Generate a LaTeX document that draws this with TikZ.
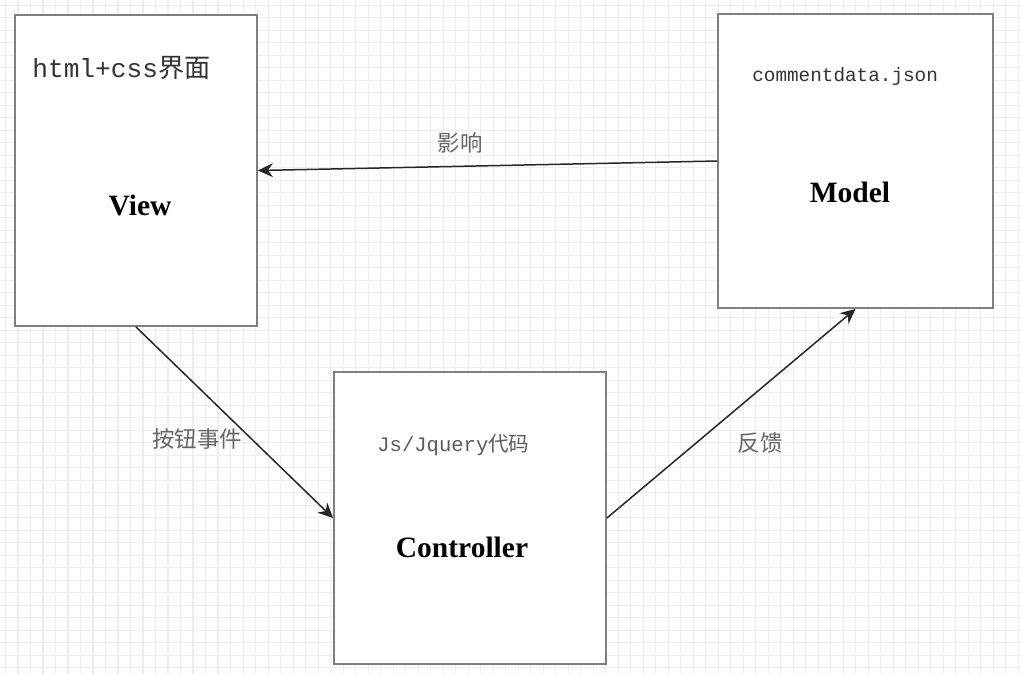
\documentclass[tikz,border=0pt]{standalone}
\usepackage{fontspec}
\setmainfont{Liberation Serif}
\setmonofont{Liberation Mono}
\newfontfamily\cjk{Noto Sans CJK SC}
\usetikzlibrary{positioning,arrows.meta}
\definecolor{rand}{HTML}{7F7F7F}
\definecolor{raster}{HTML}{EDEDED}
\definecolor{tekst}{HTML}{333333}
\definecolor{grijs}{HTML}{666666}

\begin{document}
\begin{tikzpicture}[
  x=0.02cm, y=-0.02cm,
  blok/.style={draw=rand, line width=1.1pt, fill=white, inner sep=0pt},
  naam/.style={font=\fontsize{16.8}{18}\selectfont\bfseries, text=black},
  code/.style={font=\ttfamily\fontsize{#1}{#1}\selectfont, text=tekst, inner sep=0pt},
  code/.default=11,
  pijl/.style={-{Stealth[length=3mm, width=2.8mm, inset=1mm]}, line width=0.85pt, black!85},
  bijschrift/.style={font=\cjk\fontsize{12.8}{14}\selectfont, text=grijs},
]
% ---- achtergrond met raster
\fill[white] (0,0) rectangle (1021,674);
\useasboundingbox (0,0) rectangle (1021,674);
\foreach \gx in {0,...,81}
  \draw[raster, line width=0.8pt] (5.7+12.5*\gx,0) -- ++(0,674);
\foreach \gy in {0,...,53}
  \draw[raster, line width=0.8pt] (0,5.2+12.5*\gy) -- ++(1021,0);

% ---- de drie blokken
\node[blok, minimum width=4.84cm, minimum height=6.22cm] (view) at (136,170.5) {};
\node[blok, minimum width=5.5cm, minimum height=5.88cm] (model) at (855.5,161) {};
\node[blok, minimum width=5.44cm, minimum height=5.84cm] (controller) at (470,518) {};

% ---- teksten in de blokken
\node[code=14.9, anchor=west] (viewcode) at (32,68) {html+css{\cjk 界面}};
\node[naam] (viewnaam) at (140,205) {View};
\node[code=11, anchor=west] (modelcode) at (752,76) {commentdata.json};
\node[naam] (modelnaam) at (850,192) {Model};
\node[code=11.7, anchor=west, text=grijs!90!black] (ctrlcode) at (377,445) {Js/Jquery{\cjk 代码}};
\node[naam] (ctrlnaam) at (462,547) {Controller};

% ---- pijlen
\draw[pijl] (model.west) -- (view.east);
\draw[pijl] (view.south) -- (controller.west);
\draw[pijl] (controller.east) -- (model.south);

% ---- labels bij de pijlen
\node[bijschrift] (invloed) at (460,143) {影响};
\node[bijschrift] (knop) at (197,439) {按钮事件};
\node[bijschrift] (terug) at (760,443) {反馈};
\end{tikzpicture}
\end{document}
